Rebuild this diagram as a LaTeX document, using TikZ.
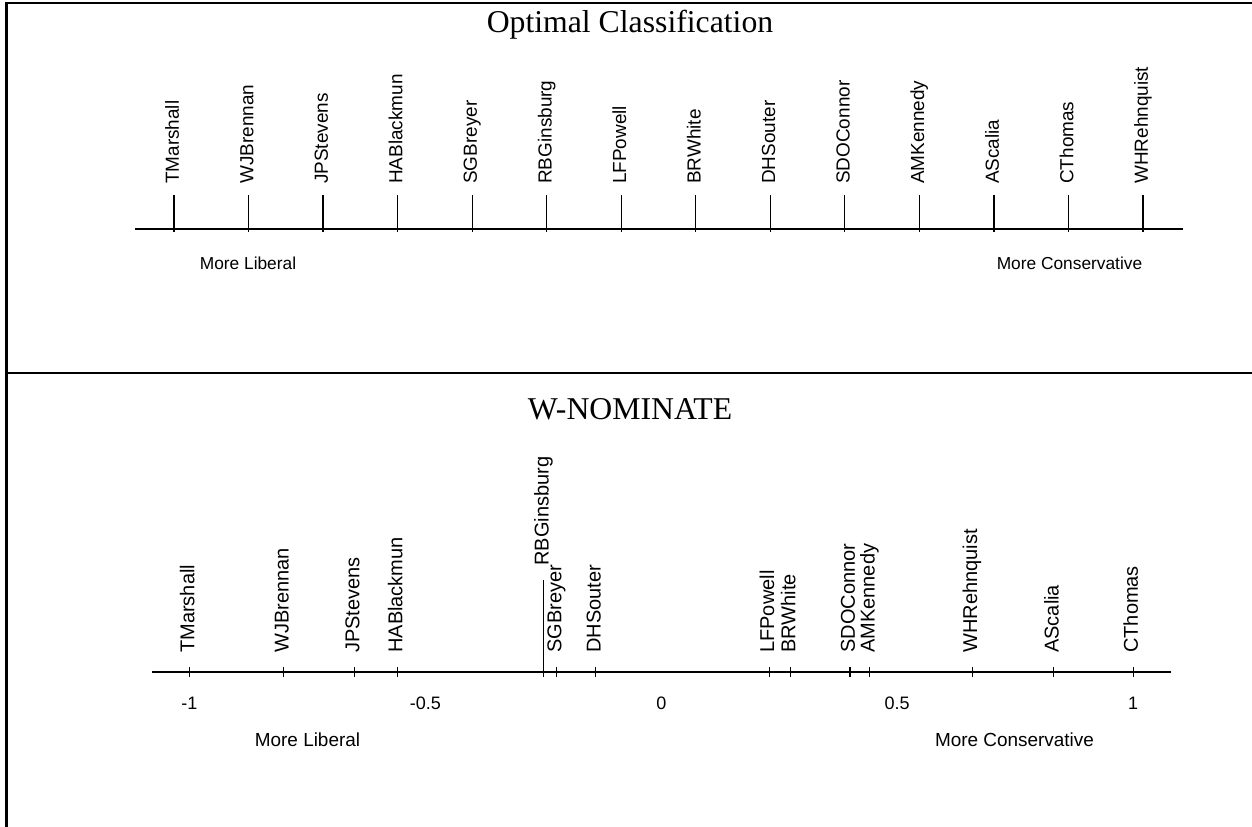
\documentclass[tikz,border=0pt]{standalone}
\usepackage{fontspec}
\setmainfont{Liberation Serif}
\setsansfont{Liberation Sans}
\usetikzlibrary{positioning}

\tikzset{
    frame/.style={line width=2pt},
    axisline/.style={line width=0.9pt},
    justice/.style={rotate=90, anchor=west, inner sep=0pt, text height=0.72em, text depth=0pt},
    paneltitle/.style={anchor=base, inner sep=0pt, font=\rmfamily\fontsize{23.8}{24}\selectfont},
    note/.style={anchor=base, inner sep=0pt},
}

\begin{document}
\begin{tikzpicture}[x=0.75pt, y=-0.75pt]
    \useasboundingbox (0,0) rectangle (1252,827);
    % frame and divider
    \draw[frame] (6.5,827) -- (6.5,3) -- (1252,3);
    \draw[frame] (6.5,373) -- (1252,373);

    % top panel: rank order
    \node[paneltitle] (octitle) at (630,33) {Optimal Classification};
    \draw[axisline] (135,229) -- (1183,229);
    \foreach \nm [count=\i] in {TMarshall,WJBrennan,JPStevens,HABlackmun,SGBreyer,RBGinsburg,LFPowell,BRWhite,DHSouter,SDOConnor,AMKennedy,AScalia,CThomas,WHRehnquist}{
        \pgfmathsetmacro{\px}{174+74.54*(\i-1)}
        \draw[axisline] (\px,195) -- (\px,232);
        \node[justice, font=\sffamily\fontsize{14.2}{15}\selectfont] (oc\nm) at (\px,184) {\nm};
    }
    \node[note, font=\sffamily\fontsize{13}{14}\selectfont] (oclib) at (248,270) {More Liberal};
    \node[note, font=\sffamily\fontsize{13}{14}\selectfont] (occon) at (1069.5,270) {More Conservative};

    % bottom panel: scaled positions
    \node[paneltitle] (wntitle) at (630,419) {W-NOMINATE};
    \draw[axisline] (152,672) -- (1171,672);
    \foreach \v [count=\i] in {-1,-0.5,0,0.5,1}
        \node[note, font=\sffamily\fontsize{13.5}{14}\selectfont] (wnscale\i) at ({661.3+471.8*\v},709) {\v};
    \foreach \nm/\v/\tp in {TMarshall/-1.0/667,WJBrennan/-0.80/667,JPStevens/-0.65/667,HABlackmun/-0.559/667,RBGinsburg/-0.249/580,SGBreyer/-0.222/667,DHSouter/-0.139/667,LFPowell/0.229/667,BRWhite/0.274/667,SDOConnor/0.40/667,AMKennedy/0.442/667,WHRehnquist/0.659/667,AScalia/0.832/667,CThomas/1.0/667}{
        \draw[axisline] ({661.3+471.8*\v},\tp) -- ({661.3+471.8*\v},677);
        \node[justice, font=\sffamily\fontsize{15}{16}\selectfont] (wn\nm) at ({661.3+471.8*\v},\tp-14) {\nm};
    }
    \node[note, font=\sffamily\fontsize{14.2}{15}\selectfont] (wnlib) at (307.5,746) {More Liberal};
    \node[note, font=\sffamily\fontsize{14.2}{15}\selectfont] (wncon) at (1014.5,746) {More Conservative};
\end{tikzpicture}
\end{document}
